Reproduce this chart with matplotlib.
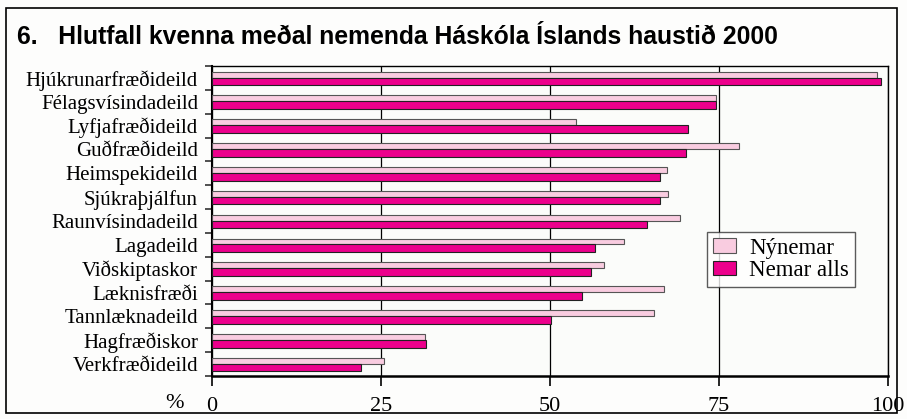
import numpy as np
import matplotlib
matplotlib.use('Agg')
import matplotlib.pyplot as plt
from matplotlib.patches import Rectangle

categories = ['Hjúkrunarfræðideild', 'Félagsvísindadeild', 'Lyfjafræðideild',
              'Guðfræðideild', 'Heimspekideild', 'Sjúkraþjálfun',
              'Raunvísindadeild', 'Lagadeild', 'Viðskiptaskor', 'Læknisfræði',
              'Tannlæknadeild', 'Hagfræðiskor', 'Verkfræðideild']
nynemar = [98.3, 74.6, 53.9, 77.9, 67.3, 67.5, 69.3, 60.9, 58.0, 66.8, 65.4, 31.5, 25.4]
nemar_alls = [99.0, 74.6, 70.4, 70.1, 66.3, 66.3, 64.3, 56.7, 56.0, 54.7, 50.1, 31.7, 22.1]
xticks = [0, 25, 50, 75, 100]

light = '#F9CCE0'
dark = '#EC008C'
serif = ['Liberation Serif', 'DejaVu Serif']

fig = plt.figure(figsize=(9.07, 4.19), dpi=100)
fig.patch.set_facecolor('#FDFDFC')
fig.patches.append(Rectangle((5.5 / 907, 6.5 / 419), 891 / 907, 404 / 419,
                             transform=fig.transFigure, fill=False,
                             edgecolor='black', linewidth=1.2))

fig.text(17 / 907, 1 - 37 / 419, '6.   Hlutfall kvenna meðal nemenda Háskóla Íslands haustið 2000',
         fontsize=17.8, fontweight='bold', family=['Liberation Sans', 'DejaVu Sans'],
         va='center', ha='left')

ax = fig.add_axes([212 / 907, 1 - 376 / 419, 676 / 907, 310 / 419])
ax.set_facecolor('#FBFCFA')

y = np.arange(len(categories))
# ljósa súlan er aðeins mjórri en sú dökka, eins og á myndinni
ax.barh(y - 0.265, nynemar, height=0.25, align='edge', color=light,
        edgecolor='#555555', linewidth=0.8, label='Nýnemar', zorder=3)
ax.barh(y - 0.015, nemar_alls, height=0.32, align='edge', color=dark,
        edgecolor='#222222', linewidth=0.8, label='Nemar alls', zorder=3)

ax.set_xlim(0, 100)
ax.set_ylim(len(categories) - 0.5, -0.5)
ax.set_xticks(xticks)
ax.set_xticklabels([str(t) for t in xticks], family=serif, fontsize=16)
ax.tick_params(axis='x', length=7, width=1.2, pad=8, direction='out')
ax.set_yticks(y)
ax.set_yticklabels(categories, family=serif, fontsize=15)
ax.tick_params(axis='y', length=0, pad=10)
ax.set_yticks(np.arange(-0.5, len(categories), 1), minor=True)
ax.tick_params(axis='y', which='minor', length=5, width=1.2, color='#333333')
ax.grid(axis='x', color='black', linewidth=0.9, zorder=0)
for s in ax.spines.values():
    s.set_linewidth(1.0)
ax.spines['bottom'].set_linewidth(1.8)
ax.spines['left'].set_linewidth(1.5)

fig.text(175 / 907, 1 - 403 / 419, '%', family=serif, fontsize=16, va='center', ha='center')

leg = ax.legend(loc='upper left', bbox_to_anchor=((707 - 212) / 676, (376 - 232) / 310),
                prop={'family': serif, 'size': 16.5}, frameon=True, fancybox=False,
                edgecolor='#333333', handlelength=1.0, handleheight=0.6,
                borderpad=0.25, labelspacing=0.05, handletextpad=0.6,
                borderaxespad=0)
leg.get_frame().set_linewidth(1.0)
leg.get_frame().set_facecolor('white')

fig.savefig('out.png', dpi=100, facecolor=fig.get_facecolor())
